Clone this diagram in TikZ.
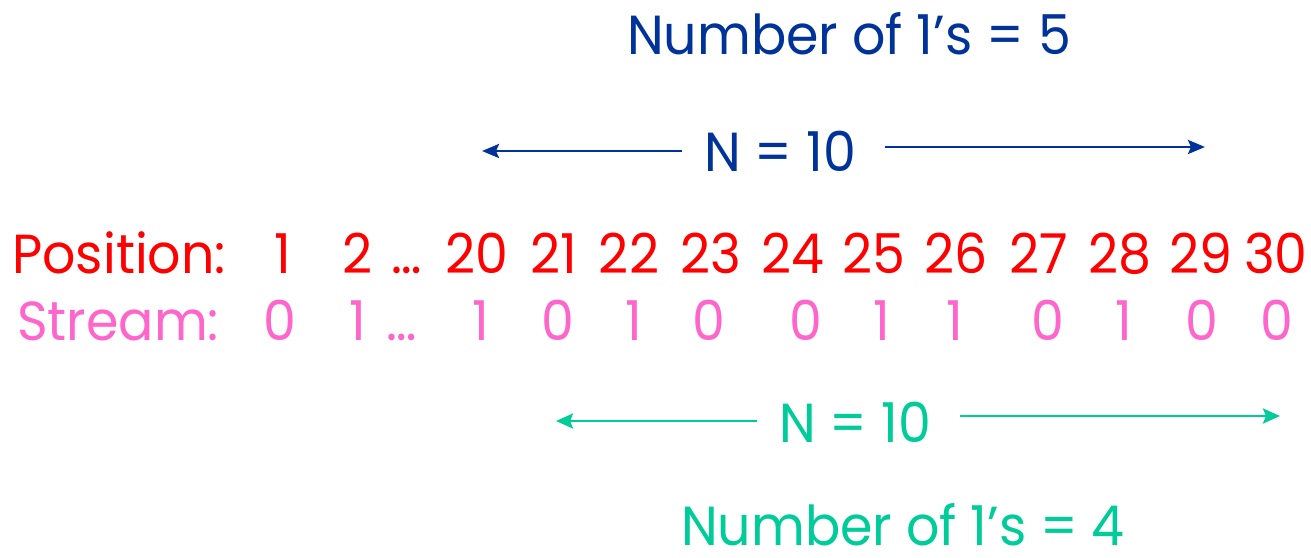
\documentclass[tikz,border=0pt]{standalone}
\usepackage{fontspec}
\setmainfont{Poppins}[FakeStretch=0.95]
\usetikzlibrary{arrows.meta}
\definecolor{cblue}{HTML}{003399}
\definecolor{cred}{HTML}{FF0000}
\definecolor{cpink}{HTML}{FF66CC}
\definecolor{cgreen}{HTML}{00CC99}
\begin{document}
\begin{tikzpicture}[x=1pt,y=-1pt,
  txt/.style={inner sep=0pt,anchor=base,font=\fontsize{55}{60}\selectfont},
  posrow/.style={txt,text=cred},
  strmrow/.style={txt,text=cpink},
  arrblue/.style={draw=cblue,line width=2.8pt,-{Stealth[length=17pt,width=14pt,inset=3pt]}},
  arrgreen/.style={draw=cgreen,line width=2.8pt,-{Stealth[length=17pt,width=15pt,inset=3pt]}}]
\useasboundingbox (0,0) rectangle (1311,557);
% top
\node[txt,text=cblue] (t5) at (849,54) {Number of 1’s = 5};
\node[txt,text=cblue] (nb) at (780,171) {N = 10};
\coordinate (bls) at (682,151); \coordinate (ble) at (482,151);
\coordinate (brs) at (885,147); \coordinate (bre) at (1205,147);
\draw[arrblue] (bls) -- (ble);
\draw[arrblue] (brs) -- (bre);
% position row
\node[posrow,anchor=base west] (plab) at (12,273) {Position:};
\node[posrow] (p1) at (283,273) {1};
\node[posrow] (p2) at (358,273) {2};
\node[posrow] (pd) at (407,273) {…};
\node[posrow] (p20) at (477,273) {20};
\node[posrow] (p21) at (554,273) {21};
\node[posrow] (p22) at (629,273) {22};
\node[posrow] (p23) at (711,273) {23};
\node[posrow] (p24) at (793,273) {24};
\node[posrow] (p25) at (874,273) {25};
\node[posrow] (p26) at (956,273) {26};
\node[posrow] (p27) at (1039,273) {27};
\node[posrow] (p28) at (1120,273) {28};
\node[posrow] (p29) at (1201,273) {29};
\node[posrow] (p30) at (1276,273) {30};
% stream row
\node[strmrow,anchor=base west] (slab) at (17,340) {Stream:};
\node[strmrow] (s1) at (280,340) {0};
\node[strmrow] (s2) at (358,340) {1};
\node[strmrow] (sd) at (402,340) {…};
\node[strmrow] (s20) at (481,340) {1};
\node[strmrow] (s21) at (558,340) {0};
\node[strmrow] (s22) at (634,340) {1};
\node[strmrow] (s23) at (709,340) {0};
\node[strmrow] (s24) at (806,340) {0};
\node[strmrow] (s25) at (882,340) {1};
\node[strmrow] (s26) at (955,340) {1};
\node[strmrow] (s27) at (1048,340) {0};
\node[strmrow] (s28) at (1124,340) {1};
\node[strmrow] (s29) at (1202,340) {0};
\node[strmrow] (s30) at (1277,340) {0};
% bottom
\node[txt,text=cgreen] (ng) at (855,442) {N = 10};
\coordinate (gls) at (757,421); \coordinate (gle) at (556,421);
\coordinate (grs) at (960,416); \coordinate (gre) at (1280,416);
\draw[arrgreen] (gls) -- (gle);
\draw[arrgreen] (grs) -- (gre);
\node[txt,text=cgreen] (t4) at (903,545) {Number of 1’s = 4};
\end{tikzpicture}
\end{document}
